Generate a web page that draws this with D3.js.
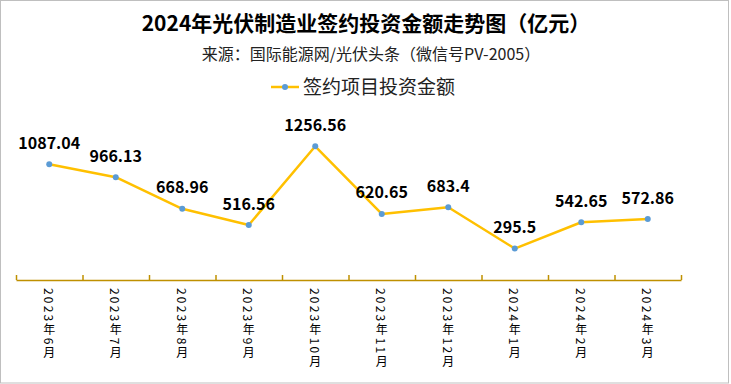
<!DOCTYPE html>
<html lang="zh">
<head>
<meta charset="utf-8">
<title>2024年光伏制造业签约投资金额走势图</title>
<script src="https://d3js.org/d3.v7.min.js"></script>
<style>
  body { margin: 0; background: #fff; }
  svg text { font-family: "Noto Sans CJK SC", "Noto Sans", sans-serif; fill: #000; }
</style>
</head>
<body>
<script>
// data (亿元)
var months = ["2023年6月", "2023年7月", "2023年8月", "2023年9月", "2023年10月",
              "2023年11月", "2023年12月", "2024年1月", "2024年2月", "2024年3月"];
var values = [1087.04, 966.13, 668.96, 516.56, 1256.56, 620.65, 683.4, 295.5, 542.65, 572.86];
var valueLabels = ["1087.04", "966.13", "668.96", "516.56", "1256.56",
                   "620.65", "683.4", "295.5", "542.65", "572.86"];

var width = 731, height = 384;
var plotLeft = 16, plotRight = 681, axisY = 280, plotTop = 131;

var svg = d3.select("body").append("svg")
  .attr("width", width)
  .attr("height", height);

// outer frame
svg.append("rect")
  .attr("x", 0.5).attr("y", 0.5)
  .attr("width", 728).attr("height", 382.5)
  .attr("fill", "#fff")
  .attr("stroke", "#bfbfbf");

// title, source and legend
svg.append("text")
  .attr("x", 366).attr("y", 31)
  .attr("text-anchor", "middle")
  .style("font-size", "21px").style("font-weight", "bold")
  .text("2024年光伏制造业签约投资金额走势图（亿元）");

svg.append("text")
  .attr("x", 371).attr("y", 60)
  .attr("text-anchor", "middle")
  .style("font-size", "16px").style("fill", "#222")
  .text("来源：国际能源网/光伏头条（微信号PV-2005）");

var legend = svg.append("g");
legend.append("line")
  .attr("x1", 271).attr("x2", 299).attr("y1", 87).attr("y2", 87)
  .attr("stroke", "#ffc000").attr("stroke-width", 2.5);
legend.append("circle")
  .attr("cx", 285).attr("cy", 87).attr("r", 3)
  .attr("fill", "#5b9bd5");
legend.append("text")
  .attr("x", 303).attr("y", 94)
  .style("font-size", "19px").style("fill", "#222")
  .text("签约项目投资金额");

// scales
var x = d3.scaleBand().domain(months).range([plotLeft, plotRight]).padding(0);
var xEdge = d3.scaleLinear().domain([0, months.length]).range([plotLeft, plotRight]);
var y = d3.scaleLinear().domain([0, 1400]).range([axisY, plotTop]);

function cx(i) { return x(months[i]) + x.bandwidth() / 2; }

// category axis: ticks at category boundaries, pointing up
var axis = svg.append("g")
  .attr("transform", "translate(0," + axisY + ")")
  .call(d3.axisTop(xEdge)
    .tickValues(d3.range(months.length + 1))
    .tickSize(5)
    .tickSizeOuter(0)
    .tickFormat(""));
axis.selectAll("path, line").attr("stroke", "#bf9000").attr("stroke-width", 1.5);

// vertical month labels (digits turn sideways, CJK stays upright)
svg.append("g").selectAll("text")
  .data(months)
  .enter().append("text")
  .attr("x", function(d, i) { return cx(i); })
  .attr("y", 288)
  .style("writing-mode", "vertical-rl")
  .style("font-size", "12px")
  .style("letter-spacing", "2.2px")
  .text(function(d) { return d; });

// line + markers
var line = d3.line()
  .x(function(d, i) { return cx(i); })
  .y(function(d) { return y(d); });

svg.append("path")
  .datum(values)
  .attr("d", line)
  .attr("fill", "none")
  .attr("stroke", "#ffc000")
  .attr("stroke-width", 2.5)
  .attr("stroke-linejoin", "round");

svg.append("g").selectAll("circle")
  .data(values)
  .enter().append("circle")
  .attr("cx", function(d, i) { return cx(i); })
  .attr("cy", function(d) { return y(d); })
  .attr("r", 3)
  .attr("fill", "#5b9bd5");

// value labels
svg.append("g").selectAll("text")
  .data(values)
  .enter().append("text")
  .attr("x", function(d, i) { return cx(i); })
  .attr("y", function(d) { return y(d) - 15.5; })
  .attr("text-anchor", "middle")
  .style("font-size", "16px").style("font-weight", "bold")
  .text(function(d, i) { return valueLabels[i]; });
</script>
</body>
</html>
